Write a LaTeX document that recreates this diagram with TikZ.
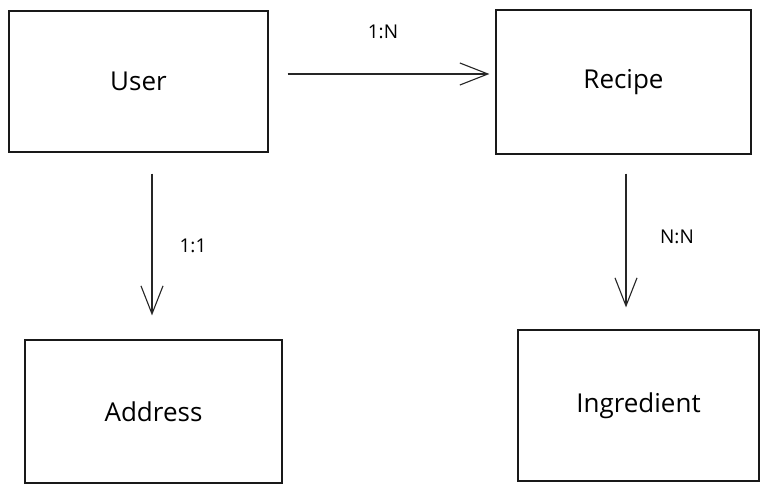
\documentclass[tikz,border=0pt]{standalone}
\usepackage{fontspec}
\setmainfont{Open Sans}
\usetikzlibrary{arrows.meta}
\begin{document}
\begin{tikzpicture}[x=1pt,y=-1pt,
  entity/.style={draw=black!90,line width=1.2pt,rectangle,inner sep=0pt,font=\fontsize{26}{30}\selectfont},
  rel/.style={draw=black!85,line width=1.1pt,-{Straight Barb[length=28pt,width=22pt,line width=1.1pt]}},
  card/.style={font=\fontsize{19}{22}\selectfont,inner sep=0pt}]
\fill[white] (0,0) rectangle (769,494);
\useasboundingbox (0,0) rectangle (769,494);
\node[entity,minimum width=259pt,minimum height=141pt] (user) at (138.5,81.5) {User};
\node[entity,minimum width=255pt,minimum height=144pt] (recipe) at (623.5,82) {Recipe};
\node[entity,minimum width=257pt,minimum height=143pt] (address) at (153.5,411.5) {Address};
\node[entity,minimum width=241pt,minimum height=151pt] (ingredient) at (638.5,405.5) {Ingredient};
\coordinate (a1s) at ([xshift=19pt,yshift=7.5pt]user.east);
\coordinate (a1e) at ([xshift=-6pt,yshift=8pt]recipe.west);
\coordinate (a2s) at ([xshift=13.5pt,yshift=-21pt]user.south);
\coordinate (a2e) at ([xshift=-1.5pt,yshift=24pt]address.north);
\coordinate (a3s) at ([xshift=2.5pt,yshift=-19pt]recipe.south);
\coordinate (a3e) at ([xshift=-12.5pt,yshift=22pt]ingredient.north);
\draw[rel] (a1s) -- (a1e);
\draw[rel] (a2s) -- (a2e);
\draw[rel] (a3s) -- (a3e);
\node[card] (l1) at (383,32) {1:N};
\node[card] (l2) at (193,246) {1:1};
\node[card] (l3) at (677,237) {N:N};
\end{tikzpicture}
\end{document}
